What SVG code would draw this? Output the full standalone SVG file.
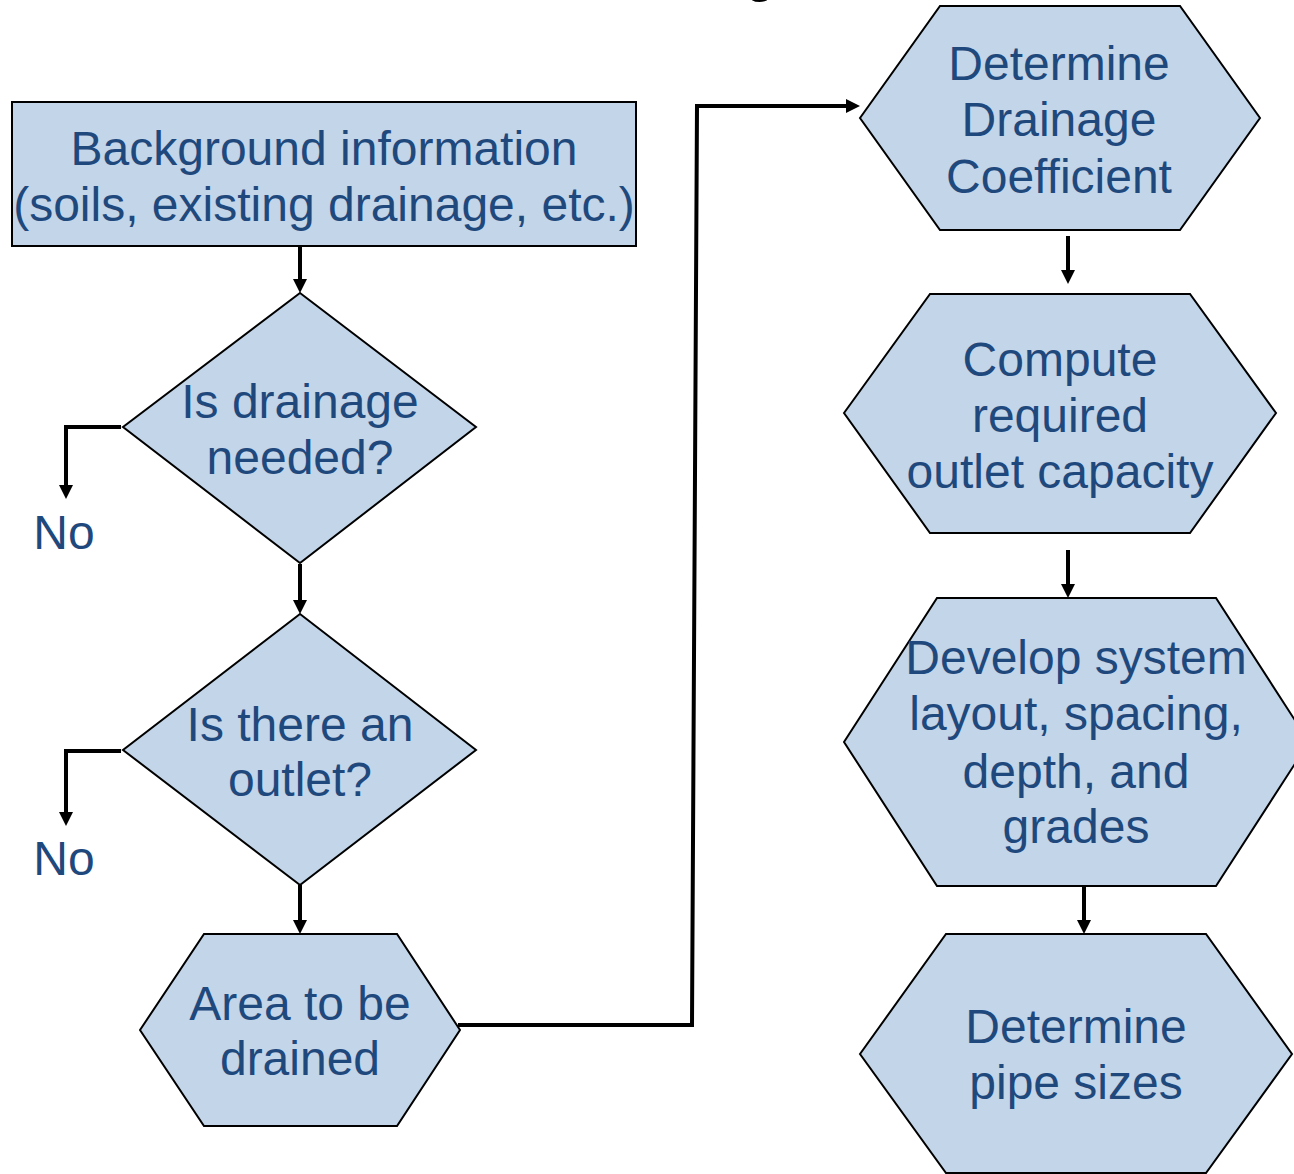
<svg xmlns="http://www.w3.org/2000/svg" width="1294" height="1174" viewBox="0 0 1294 1174">
  <style>
    .shape { fill: #C3D5E9; stroke: #000; stroke-width: 2; stroke-linejoin: miter; }
    .label { font-family: "Liberation Sans", Arial, sans-serif; font-size: 48px; fill: #1F497D; text-anchor: middle; }
    .wire { fill: none; stroke: #000; stroke-width: 4; stroke-linejoin: miter; }
  </style>
  <defs>
    <marker id="arrow" markerUnits="userSpaceOnUse" markerWidth="14" markerHeight="14" refX="0" refY="7" orient="auto">
      <path d="M0,0 L14,7 L0,14 z" fill="#000"/>
    </marker>
  </defs>
  <rect width="1294" height="1174" fill="#fff"/>

  <!-- descender of the page heading, running off the top edge -->
  <text x="760" y="-9" font-family="Liberation Sans, Arial, sans-serif" font-size="54" text-anchor="middle" fill="#000">g</text>

  <!-- connectors -->
  <g id="connectors">
    <path class="wire" d="M300,246 V279" marker-end="url(#arrow)"/>
    <path class="wire" d="M300,564 V600" marker-end="url(#arrow)"/>
    <path class="wire" d="M300,885 V920" marker-end="url(#arrow)"/>
    <path class="wire" d="M121,427 H66 V485" marker-end="url(#arrow)"/>
    <path class="wire" d="M121,751 H66 V812" marker-end="url(#arrow)"/>
    <path class="wire" d="M458,1025 H692 L697,106 H846" marker-end="url(#arrow)"/>
    <path class="wire" d="M1068,236 V270" marker-end="url(#arrow)"/>
    <path class="wire" d="M1068,550 V584" marker-end="url(#arrow)"/>
    <path class="wire" d="M1084,886 V920" marker-end="url(#arrow)"/>
  </g>

  <g id="background">
    <rect class="shape" x="12" y="102" width="624" height="144"/>
    <text class="label" x="324" y="165">Background information</text>
    <text class="label" x="324" y="221">(soils, existing drainage, etc.)</text>
  </g>

  <g id="drainage-needed">
    <polygon class="shape" points="300,293 476,427 300,563 123,427"/>
    <text class="label" x="300" y="418">Is drainage</text>
    <text class="label" x="300" y="474">needed?</text>
  </g>

  <g id="no-1">
    <text class="label" x="64" y="549">No</text>
  </g>

  <g id="outlet">
    <polygon class="shape" points="300,614 476,750 300,885 123,750"/>
    <text class="label" x="300" y="741">Is there an</text>
    <text class="label" x="300" y="796">outlet?</text>
  </g>

  <g id="no-2">
    <text class="label" x="64" y="875">No</text>
  </g>

  <g id="area">
    <polygon class="shape" points="140,1030 204,934 397,934 460,1030 397,1126 204,1126"/>
    <text class="label" x="300" y="1020">Area to be</text>
    <text class="label" x="300" y="1075">drained</text>
  </g>

  <g id="drainage-coefficient">
    <polygon class="shape" points="860,118 940,6 1180,6 1260,118 1180,230 940,230"/>
    <text class="label" x="1059" y="80">Determine</text>
    <text class="label" x="1059" y="136">Drainage</text>
    <text class="label" x="1059" y="193">Coefficient</text>
  </g>

  <g id="outlet-capacity">
    <polygon class="shape" points="844,413 930,294 1190,294 1276,413 1190,533 930,533"/>
    <text class="label" x="1060" y="376">Compute</text>
    <text class="label" x="1060" y="432">required</text>
    <text class="label" x="1060" y="488">outlet capacity</text>
  </g>

  <g id="system-layout">
    <polygon class="shape" points="844,742 937,598 1216,598 1309,742 1216,886 937,886"/>
    <text class="label" x="1076" y="674">Develop system</text>
    <text class="label" x="1076" y="730">layout, spacing,</text>
    <text class="label" x="1076" y="788">depth, and</text>
    <text class="label" x="1076" y="843">grades</text>
  </g>

  <g id="pipe-sizes">
    <polygon class="shape" points="860,1054 946,934 1206,934 1292,1054 1206,1173 946,1173"/>
    <text class="label" x="1076" y="1043">Determine</text>
    <text class="label" x="1076" y="1099">pipe sizes</text>
  </g>
</svg>
